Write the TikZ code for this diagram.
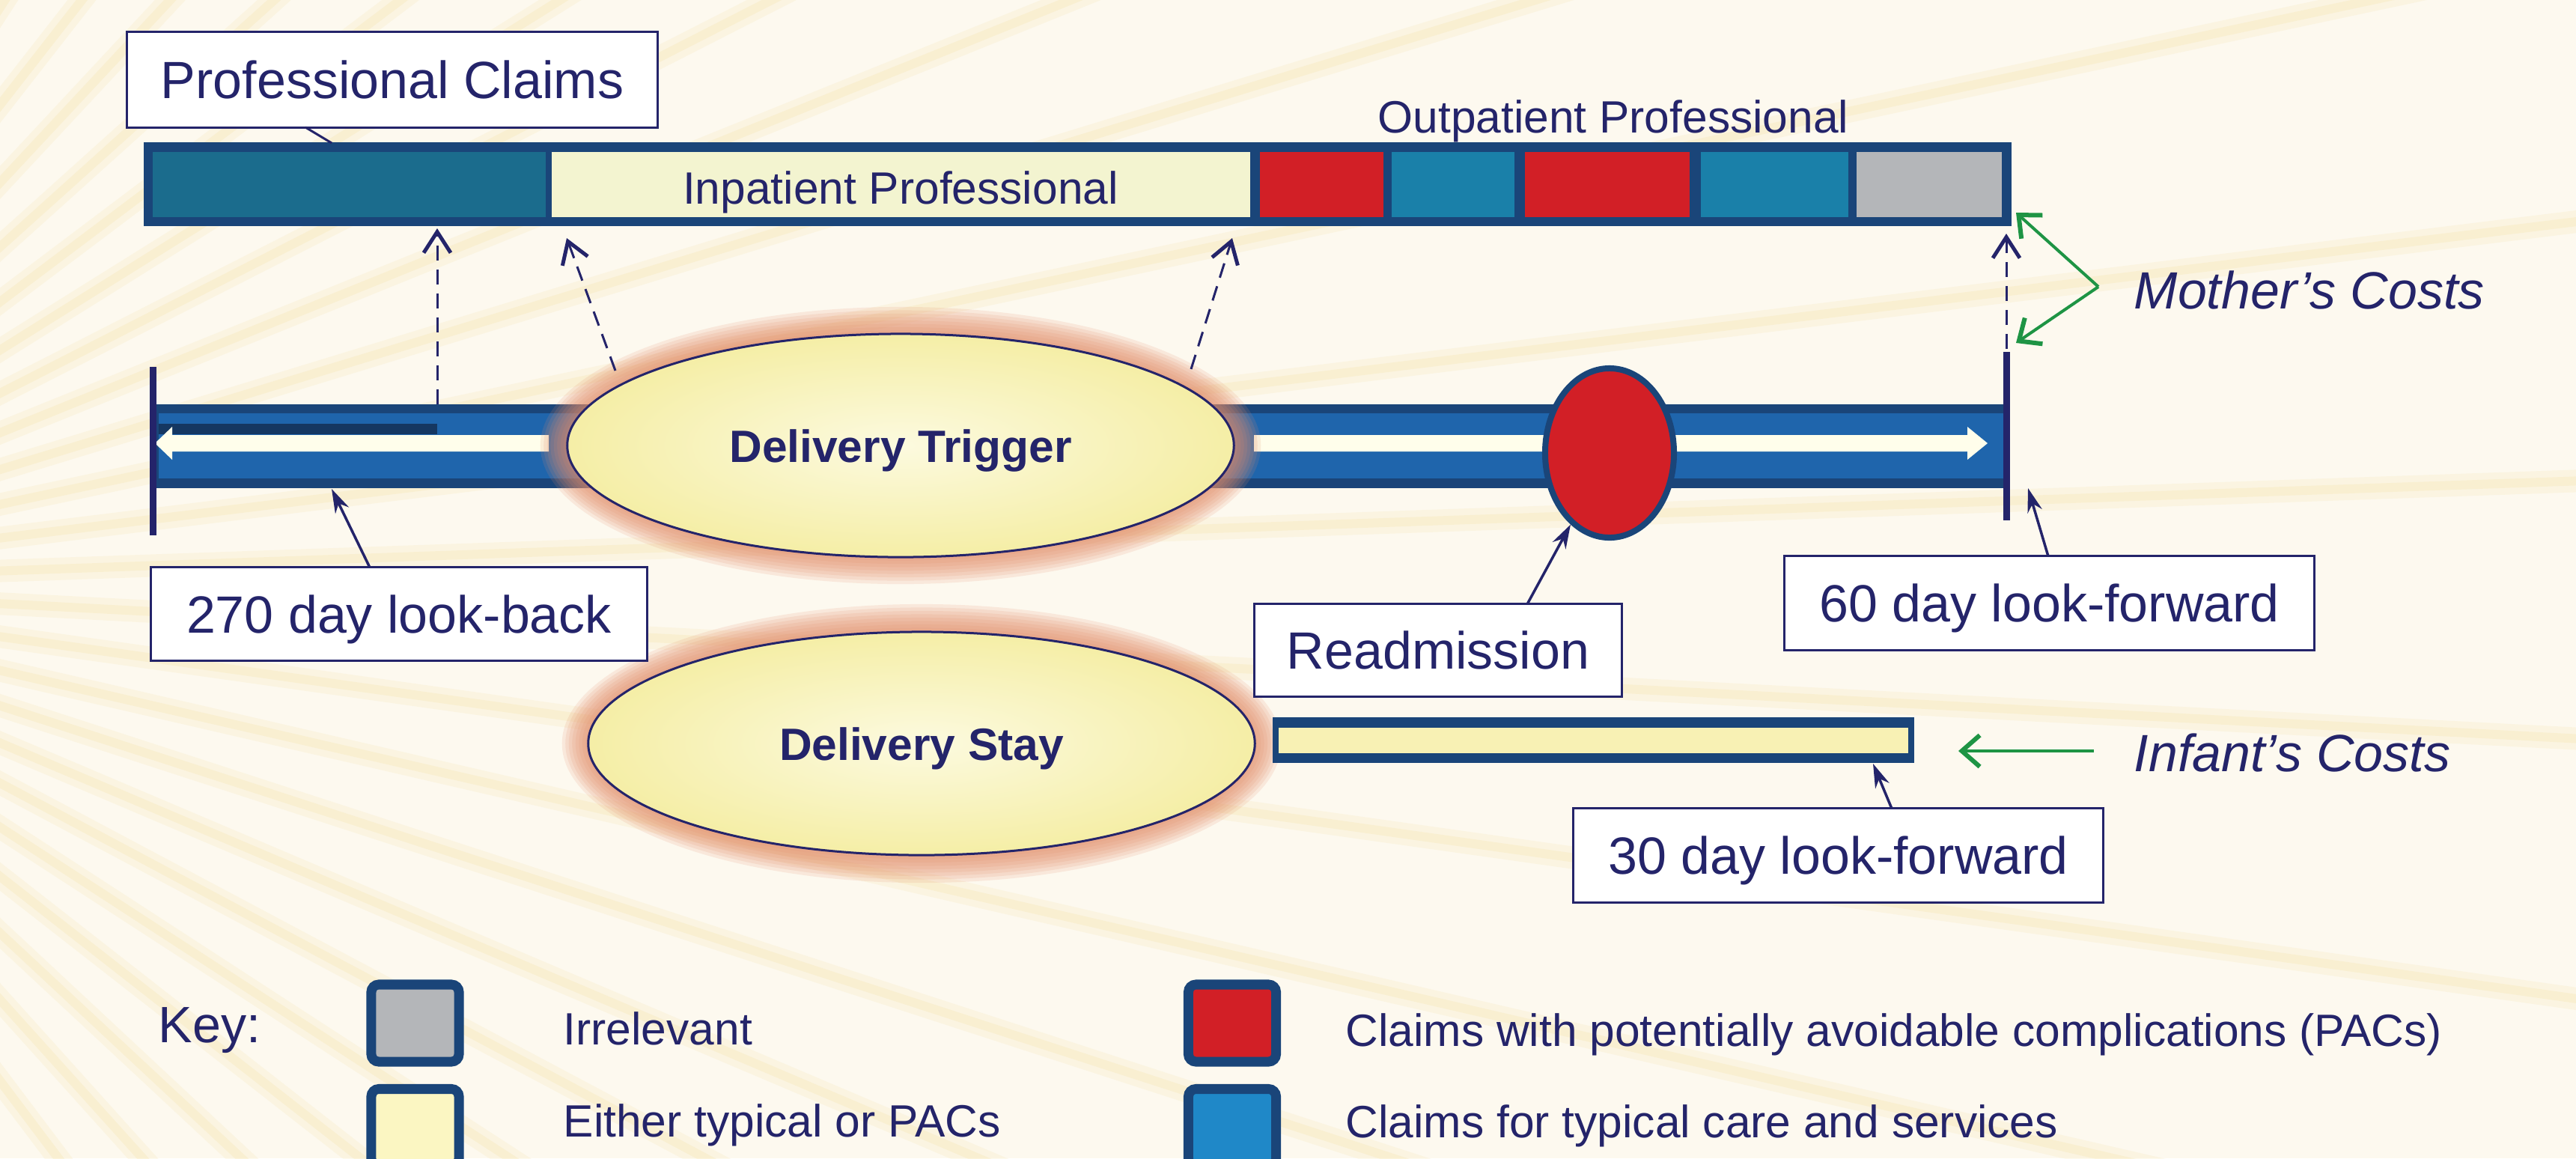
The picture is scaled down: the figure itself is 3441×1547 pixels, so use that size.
\documentclass[tikz,border=0pt]{standalone}
\usepackage{fontspec}
\setmainfont{Liberation Sans}
\usetikzlibrary{arrows.meta,shapes.geometric,calc}
\definecolor{bg}{HTML}{FDF9EF}
\definecolor{raycol}{HTML}{F5E2A2}
\definecolor{txt}{HTML}{24246A}
\definecolor{navy}{HTML}{1A4579}
\definecolor{tlblue}{HTML}{1F65AC}
\definecolor{dteal}{HTML}{1B6C8D}
\definecolor{pteal}{HTML}{1A80A9}
\definecolor{pred}{HTML}{D21F26}
\definecolor{pgray}{HTML}{B4B6B9}
\definecolor{ipy}{HTML}{F3F4D0}
\definecolor{infy}{HTML}{F8F1B4}
\definecolor{keyy}{HTML}{FBF6C2}
\definecolor{keyb}{HTML}{1F88C8}
\definecolor{glowc}{HTML}{E38D6A}
\definecolor{grn}{HTML}{1E9444}
\definecolor{ella}{HTML}{FCFADF}
\definecolor{ellb}{HTML}{F5EEA6}
\newcommand\lblfont{\fontsize{19.9}{24}\selectfont}
\newcommand\barfont{\fontsize{17.2}{21}\selectfont}
\tikzset{
  lbl/.style={draw=txt, line width=0.03cm, fill=white, font=\lblfont, text=txt,
    inner sep=0pt, text height=0.5cm, text depth=0pt},
  conn/.style={draw=txt, line width=0.035cm, -{Stealth[length=0.32cm,width=0.2cm]}},
  dsh/.style={draw=txt, line width=0.03cm, dash pattern=on 0.2cm off 0.12cm,
    -{Straight Barb[length=0.28cm,width=0.36cm,line width=0.05cm]}},
  grnarr/.style={draw=grn, line width=0.04cm, -{Straight Barb[length=0.24cm,width=0.42cm,line width=0.06cm]}},
  ell/.style={ellipse, draw=txt, line width=0.03cm, inner color=ella, outer color=ellb,
    minimum width=8.9cm, minimum height=2.98cm, inner sep=0pt, font=\barfont\bfseries,
    text=txt, text height=0.44cm, text depth=0pt},
  swatch/.style={draw=navy, line width=0.13cm, rounded corners=0.1cm, inner sep=0pt,
    minimum width=1.17cm, minimum height=1.03cm},
  keytxt/.style={font=\barfont, text=txt, inner sep=0pt, anchor=base west},
  ctxt/.style={font=\lblfont\itshape, text=txt, inner sep=0pt, anchor=west, text height=0.5cm, text depth=0pt}
}
\begin{document}
\begin{tikzpicture}[x=0.01cm, y=-0.01cm]
\useasboundingbox (0,0) rectangle (3441,1547);
% background
\begin{scope}
\clip (0,0) rectangle (3441,1547);
\fill[bg] (0,0) rectangle (3441,1547);
\foreach \a in {-62,-57,...,63}{
  \draw[raycol, opacity=0.18, line width=0.3cm] (-500,780) -- ++(\a:5200);
  \draw[raycol, opacity=0.25, line width=0.12cm] (-500,780) -- ++(\a:5200);
}
\end{scope}

% professional claims bar
\node[fill=navy, minimum width=24.93cm, minimum height=1.12cm, inner sep=0pt] (pbar) at (1439.5,246) {};
\fill[dteal] (204,203) rectangle (729,290);
\fill[ipy] (737,203) rectangle (1670,290);
\fill[pred] (1683,203) rectangle (1848,290);
\fill[pteal] (1859,203) rectangle (2023,290);
\fill[pred] (2037,203) rectangle (2257,290);
\fill[pteal] (2272,203) rectangle (2469,290);
\fill[pgray] (2480,203) rectangle (2674,290);
\node[font=\barfont, text=txt, inner sep=0pt, text height=0.43cm, text depth=0pt] (ipt) at (1203,251) {Inpatient Professional};
\node[font=\barfont, text=txt, inner sep=0pt, text height=0.43cm, text depth=0pt] (opt) at (2155,156) {Outpatient Professional};

% timeline
\node[fill=navy, minimum width=24.78cm, minimum height=1.12cm, inner sep=0pt] (tline) at (1443,596) {};
\fill[tlblue] (212,552) rectangle (2676,639);
\fill[navy!80!black] (212,566) rectangle (584,580);
\fill[white!92!yellow] (733,581) -- (230,581) -- (230,570) -- (207,592) -- (230,614) -- (230,603) -- (733,603) -- cycle;
\fill[white!92!yellow] (1675,581) -- (2628,581) -- (2628,570) -- (2655,592) -- (2628,614) -- (2628,603) -- (1675,603) -- cycle;
\fill[txt] (200,490) rectangle (209,715);
\fill[txt] (2676,470) rectangle (2685,695);

% glows
\foreach \k in {1,...,8}{
  \fill[glowc, opacity=0.15] (1203,595) ellipse [x radius={4.45cm+\k*0.045cm}, y radius={1.49cm+\k*0.045cm}];
  \fill[glowc, opacity=0.15] (1231,993) ellipse [x radius={4.44cm+\k*0.045cm}, y radius={1.50cm+\k*0.045cm}];
}
\node[ell] (trig) at (1203,595) {Delivery Trigger};
\node[ell] (stay) at (1231,993) {Delivery Stay};

% readmission circle
\node[ellipse, draw=navy, line width=0.08cm, fill=pred, minimum width=1.72cm, minimum height=2.26cm, inner sep=0pt] (readc) at (2150,605) {};

% infant bar
\node[fill=navy, minimum width=8.57cm, minimum height=0.61cm, inner sep=0pt] (inf) at (2128.5,988.5) {};
\fill[infy] (1708,972) rectangle (2549,1006);

% dashed arrows
\coordinate (a1s) at (584,540); \coordinate (a1e) at (584,305);
\coordinate (a2s) at (822,495); \coordinate (a2e) at (757,318);
\coordinate (a3s) at (1591,493); \coordinate (a3e) at (1646,318);
\coordinate (a4s) at (2680,466); \coordinate (a4e) at (2680,312);
\draw[dsh] (a1s) -- (a1e);
\draw[dsh] (a2s) -- (a2e);
\draw[dsh] (a3s) -- (a3e);
\draw[dsh] (a4s) -- (a4e);

% label boxes
\node[lbl, minimum width=7.08cm, minimum height=1.27cm] (pc) at (524,106.5) {Professional Claims};
\node[lbl, minimum width=6.62cm, minimum height=1.24cm] (lb) at (533,820) {270 day look-back};
\node[lbl, minimum width=4.90cm, minimum height=1.23cm] (rd) at (1921,868.5) {Readmission};
\node[lbl, minimum width=7.07cm, minimum height=1.25cm] (lf60) at (2737.5,805.5) {60 day look-forward};
\node[lbl, minimum width=7.07cm, minimum height=1.25cm] (lf30) at (2455.5,1142.5) {30 day look-forward};

% connectors
\coordinate (pcA) at (408,170); \coordinate (pcB) at (443,191);
\draw[txt, line width=0.03cm] (pcA) -- (pcB);
\coordinate (lbA) at (494,758); \coordinate (lbT) at (443,653);
\draw[conn] (lbA) -- (lbT);
\coordinate (rdA) at (2040,807);
\draw[conn] (rdA) -- (readc);
\coordinate (f60A) at (2736,743); \coordinate (f60T) at (2709,652);
\draw[conn] (f60A) -- (f60T);
\coordinate (f30A) at (2527,1080); \coordinate (f30T) at (2502,1020);
\draw[conn] (f30A) -- (f30T);

% costs
\node[ctxt] (mc) at (2850,387) {Mother’s Costs};
\node[ctxt] (ic) at (2850,1005) {Infant’s Costs};
\coordinate (mcp) at (2803,383);
\coordinate (mcT1) at (2693,284); \coordinate (mcT2) at (2693,458);
\draw[grnarr] (mcp) -- (mcT1);
\draw[grnarr] (mcp) -- (mcT2);
\coordinate (icS) at (2797,1003); \coordinate (icT) at (2616,1003);
\draw[grnarr] (icS) -- (icT);

% key
\node[keytxt, font=\fontsize{19.4}{23}\selectfont] (key) at (211,1392) {Key:};
\node[swatch, fill=pgray] (sw1) at (554.5,1366.5) {};
\node[swatch, fill=keyy] (sw2) at (554.5,1506) {};
\node[swatch, fill=pred] (sw3) at (1646,1366.5) {};
\node[swatch, fill=keyb] (sw4) at (1646,1506) {};
\node[keytxt] (k1) at (752,1395) {Irrelevant};
\node[keytxt] (k2) at (752,1518) {Either typical or PACs};
\node[keytxt] (k3) at (1797,1397) {Claims with potentially avoidable complications (PACs)};
\node[keytxt] (k4) at (1797,1519) {Claims for typical care and services};
\end{tikzpicture}
\end{document}
